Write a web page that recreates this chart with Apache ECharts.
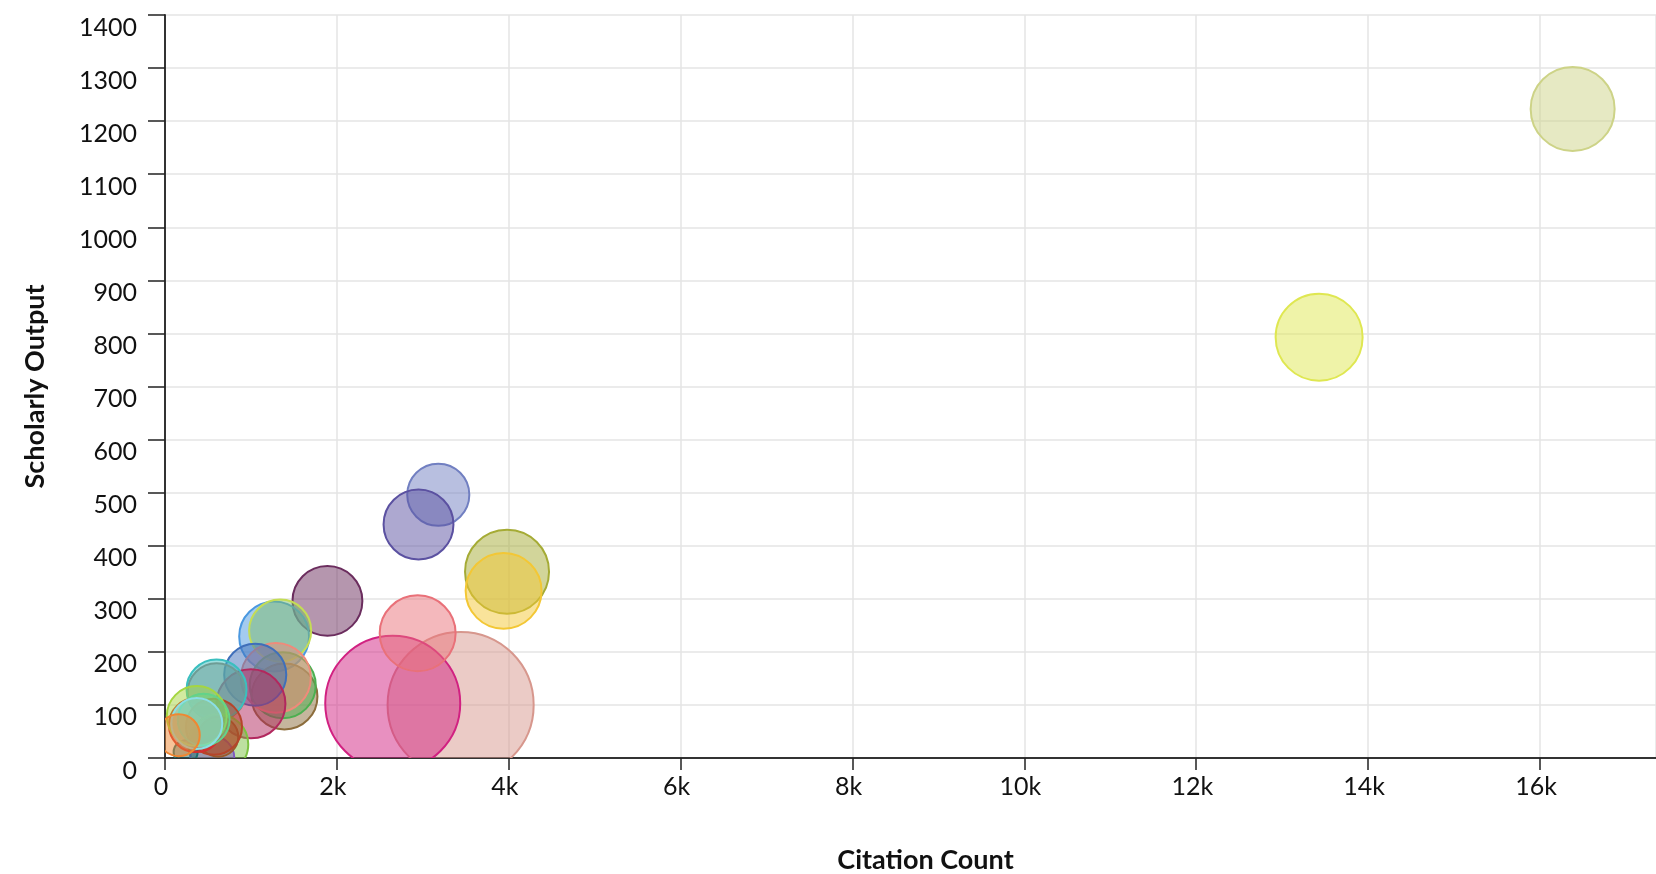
<!DOCTYPE html>
<html>
<head>
<meta charset="utf-8">
<script src="https://cdn.jsdelivr.net/npm/echarts@6/dist/echarts.min.js"></script>
<style>
  html, body { margin: 0; padding: 0; background: #fff; }
  #chart1 { width: 1656px; height: 874px; }
</style>
</head>
<body>
<div id="chart1"></div>
<script>
// citation count (x), scholarly output (y), impact (bubble size)
var citations = [3440, 2650, 2940, 16380, 13430, 3180, 2950, 3980, 3940, 1890, 1270, 1340, 1390, 1370, 1290, 1050, 1000, 600, 600, 620, 550, 620, 570, 240, 360, 370, 450, 370, 160];
var outputs   = [100, 103, 235, 1223, 793, 496, 440, 351, 315, 296, 229, 240, 116, 137, 151, 157, 102, 124, 129, 26, 0, 40, 59, 11, 62, 79, 72, 65, 43];
var impact    = [4.87, 4.5, 2.53, 2.8, 2.9, 2.07, 2.33, 2.8, 2.53, 2.33, 2.33, 2.07, 2.2, 2.2, 2.33, 2.07, 2.3, 1.93, 2.0, 2.0, 1.47, 1.33, 1.87, 0.8, 1.8, 2.0, 1.73, 1.7, 1.4];

var colors = ['#d7978d', '#d12181', '#e97179', '#cdd387', '#dfe751', '#717fc1', '#5b51a1', '#a5ab35', '#f3c735',
    '#6b2d5e', '#4a98e0', '#7dbb6a', '#8c6d3c', '#4caf50', '#f08a7a', '#3f6fba', '#b2285e', '#a0786a', '#3bbfbf',
    '#7cc242', '#7e57c2', '#9a5a2a', '#b5452a', '#1f6f6f', '#d32f2f', '#a5d641', '#62d38a', '#8adfe6', '#f08732'];
var borders = { 11: '#c4dd55' };

function fade(hex, a) {
    var n = parseInt(hex.slice(1), 16);
    return 'rgba(' + (n >> 16) + ',' + ((n >> 8) & 255) + ',' + (n & 255) + ',' + a + ')';
}

var points = citations.map(function (c, i) {
    return [c, outputs[i], impact[i]];
});

var font = 'Lato';
var chart1 = echarts.init(document.getElementById('chart1'));
var o = {
    animation: false,
    textStyle: { fontFamily: font },
    grid: { left: 165, right: 0, top: 15, bottom: 116, outerBoundsMode: 'none' },
    xAxis: {
        type: 'value',
        min: 0,
        max: 17350,
        interval: 2000,
        name: 'Citation Count',
        nameLocation: 'middle',
        nameGap: 89,
        nameTextStyle: { fontFamily: font, fontSize: 27, fontWeight: 'bold', color: '#111', padding: [0, 0, 0, 30] },
        axisLine: { lineStyle: { color: '#333', width: 2 } },
        axisTick: { show: true, length: 12, lineStyle: { color: '#222', width: 1.5 } },
        axisLabel: {
            fontFamily: font, fontSize: 25, color: '#111', margin: 16, showMaxLabel: false,
            padding: [0, 8, 0, 0],
            formatter: function (v) { return v === 0 ? '0' : (v / 1000) + 'k'; }
        },
        splitLine: { show: true, lineStyle: { color: '#e4e4e4', width: 1.5 } }
    },
    yAxis: {
        type: 'value',
        min: 0,
        max: 1400,
        interval: 100,
        name: 'Scholarly Output',
        nameLocation: 'middle',
        nameGap: 116,
        nameTextStyle: { fontFamily: font, fontSize: 27, fontWeight: 'bold', color: '#111' },
        axisLine: { show: true, lineStyle: { color: '#333', width: 2 } },
        axisTick: { show: true, length: 17, lineStyle: { color: '#222', width: 1.5 } },
        axisLabel: {
            fontFamily: font, fontSize: 25, color: '#111', margin: 28,
            verticalAlign: 'top',
            formatter: function (v) { return String(v); }
        },
        splitLine: { show: true, lineStyle: { color: '#e4e4e4', width: 1.5 } }
    },
    series: [{
        type: 'custom',
        clip: true,
        encode: { x: 0, y: 1 },
        data: points,
        renderItem: function (params, api) {
            var i = params.dataIndex;
            var p = api.coord([api.value(0), api.value(1)]);
            return {
                type: 'circle',
                shape: { cx: p[0], cy: p[1], r: api.value(2) * 15 },
                style: {
                    fill: fade(colors[i], 0.5),
                    stroke: borders[i] || colors[i],
                    lineWidth: 2
                }
            };
        }
    }]
};
chart1.setOption(o);
</script>
</body>
</html>
